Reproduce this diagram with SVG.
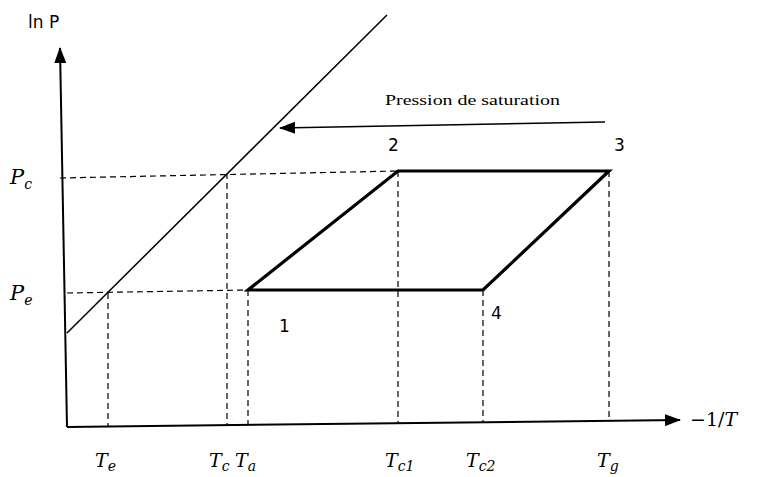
<svg xmlns="http://www.w3.org/2000/svg" width="771" height="477" viewBox="0 0 771 477">
<style>
.ax{stroke:#000;stroke-width:2;fill:none}
.thin{stroke:#000;stroke-width:1.5;fill:none}
.dash{stroke:#000;stroke-width:1.2;fill:none;stroke-dasharray:6,4}
.cyc{stroke:#000;stroke-width:3.2;fill:none;stroke-linejoin:miter}
.math{font-family:"DejaVu Serif","Liberation Serif",serif;font-style:italic;font-size:19px;fill:#000}
.big{font-size:21px}
.sub{font-size:14px}
.num{font-family:"DejaVu Sans","Liberation Sans",sans-serif;font-size:17px;fill:#000}
.cap{font-family:"Liberation Serif",serif;font-size:15px;fill:#000}
</style>
<defs>
<marker id="ah2" markerWidth="16" markerHeight="12" refX="15" refY="6" orient="auto" markerUnits="userSpaceOnUse">
<path d="M0,0 L16,6 L0,12 z" fill="#000"/>
</marker>
</defs>
<g id="connectors">
<line class="ax" x1="67" y1="427" x2="60" y2="48" marker-end="url(#ah2)"/>
<line class="ax" x1="67" y1="427" x2="680" y2="420" marker-end="url(#ah2)"/>
<line class="thin" x1="67" y1="333" x2="387" y2="15"/>
<line class="thin" x1="605" y1="122" x2="280" y2="128" marker-end="url(#ah2)"/>
<line class="dash" x1="60" y1="178" x2="398" y2="171"/>
<line class="dash" x1="67" y1="293" x2="248" y2="290"/>
<line class="dash" x1="108" y1="293" x2="108" y2="427"/>
<line class="dash" x1="227" y1="173" x2="227" y2="425"/>
<line class="dash" x1="248" y1="290" x2="248" y2="425"/>
<line class="dash" x1="398" y1="171" x2="398" y2="423"/>
<line class="dash" x1="483" y1="290" x2="483" y2="422"/>
<line class="dash" x1="609" y1="171" x2="609" y2="420"/>
</g>
<g id="cycle">
<path class="cyc" d="M248,290 L483,290 L609,171 L398,171 Z"/>
</g>
<g id="labels">
<text x="28" y="28" font-family="DejaVu Sans, sans-serif" font-size="17" fill="#000">ln P</text>
<text x="385" y="105" class="cap" textLength="175" lengthAdjust="spacingAndGlyphs">Pression de saturation</text>
<text x="388" y="151" class="num">2</text>
<text x="614" y="151" class="num">3</text>
<text x="279" y="332" class="num">1</text>
<text x="491" y="319" class="num">4</text>
<text x="10" y="184" class="math big">P<tspan class="sub" dy="5">c</tspan></text>
<text x="10" y="300" class="math big">P<tspan class="sub" dy="5">e</tspan></text>
<text x="95" y="467" class="math">T<tspan class="sub" dy="4">e</tspan></text>
<text x="209" y="467" class="math">T<tspan class="sub" dy="4">c</tspan></text>
<text x="235" y="467" class="math">T<tspan class="sub" dy="4">a</tspan></text>
<text x="385" y="467" class="math">T<tspan class="sub" dy="4">c1</tspan></text>
<text x="466" y="467" class="math">T<tspan class="sub" dy="4">c2</tspan></text>
<text x="597" y="467" class="math">T<tspan class="sub" dy="4">g</tspan></text>
<text x="690" y="426" class="math"><tspan font-style="normal">−1/</tspan>T</text>
</g>
</svg>
